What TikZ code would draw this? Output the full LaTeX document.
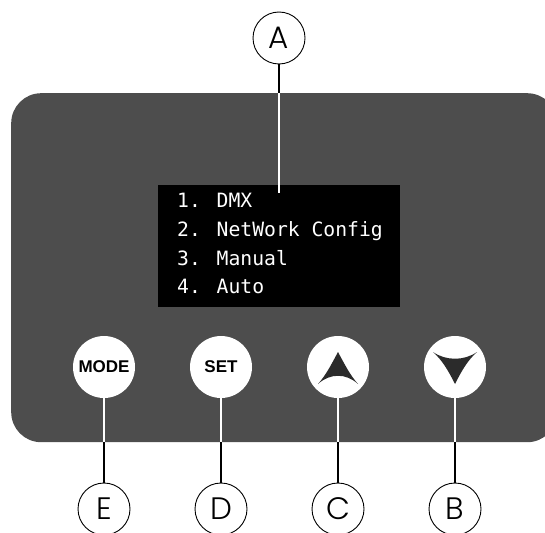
\documentclass[tikz,border=0pt]{standalone}
\usepackage{fontspec}
\setmainfont{Liberation Sans}
\newfontfamily\screenfont{DejaVu Sans Mono}
\newfontfamily\letterfont{Poppins Light}
\begin{document}
\begin{tikzpicture}[x=1pt,y=-1pt,
  callout/.style={circle,draw=black,line width=0.9pt,fill=white,minimum size=52pt,inner sep=0pt,font=\letterfont\fontsize{31}{32}\selectfont},
  button/.style={circle,fill=white,minimum size=62pt,inner sep=0pt,font=\bfseries\fontsize{17}{18}\selectfont},
  whiteline/.style={white,line width=2pt},
  blackline/.style={black,line width=2pt}]
\definecolor{panelgray}{HTML}{4D4D4D}
\definecolor{arrowgray}{HTML}{2B2B2B}
\useasboundingbox (0,0) rectangle (545,532);
\clip (0,0) rectangle (545,532);
% panel
\node[fill=panelgray,rounded corners=30pt,minimum width=546pt,minimum height=349pt,inner sep=0pt,anchor=north west] (panel) at (11,93) {};
% screen
\node[fill=black,minimum width=242pt,minimum height=122pt,inner sep=0pt,anchor=north west] (screen) at (158,185) {};
\node[anchor=north west,inner sep=0pt,text=white,font=\screenfont\fontsize{19.7}{28.8}\selectfont,align=left] (menu) at (177,193) {1. DMX\\2. NetWork Config\\3. Manual\\4. Auto};
% callout A
\node[callout] (A) at (279,38) {A};
\coordinate (Apanel) at (279,93);
\coordinate (Aend) at (279,193);
\draw[blackline] (A.south) -- (Apanel);
\draw[whiteline] (Apanel) -- (Aend);
% buttons
\node[button] (mode) at (104,367) {MODE};
\node[button] (set) at (221,367) {SET};
\node[button] (up) at (338,367) {};
\node[button] (down) at (455,367) {};
\fill[arrowgray] (338,352) .. controls (345,365) and (350,375) .. (358,384) .. controls (346,373) and (330,373) .. (318,384) .. controls (326,375) and (331,365) .. (338,352) -- cycle;
\fill[arrowgray] (455,384) .. controls (462,370) and (468,360) .. (477,352) .. controls (464,361) and (446,361) .. (433,352) .. controls (442,360) and (448,370) .. (455,384) -- cycle;
% bottom callouts
\node[callout] (E) at (104,509) {E};
\node[callout] (D) at (221,509) {D};
\node[callout] (C) at (338,509) {C};
\node[callout] (B) at (455,509) {B};
\foreach \b/\c/\x in {mode/E/104,set/D/221,up/C/338,down/B/455}{
  \coordinate (p\c) at (\x,442);
  \draw[whiteline] (\b.south) -- (p\c);
  \draw[blackline] (p\c) -- (\c.north);
}
\end{tikzpicture}
\end{document}
